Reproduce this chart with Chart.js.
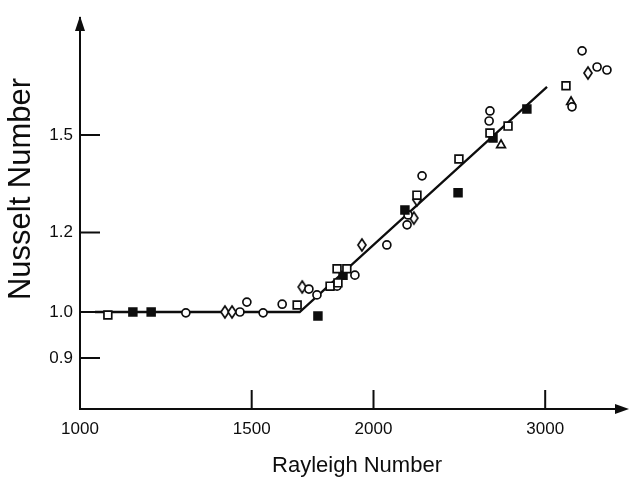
<!DOCTYPE html>
<html><head><meta charset="utf-8">
<script src="https://cdn.jsdelivr.net/npm/chart.js@4"></script>
<style>html,body{margin:0;padding:0;background:#fff}#wrap{width:630px;height:479px}</style>
</head><body><div id="wrap"><canvas id="c" width="630" height="479"></canvas></div>
<script>
const xTicks = [1000, 1500, 2000, 3000];
const yTicks = [0.9, 1.0, 1.2, 1.5];
const fitRa = [1036, 1680, 3013];
const fitNu = [1.0, 1.0, 1.675];
const openSquareRa = [1068, 1670, 1805, 1835, 1839, 1878, 2216, 2447, 2633, 2748, 3151];
const openSquareNu = [0.993, 1.016, 1.061, 1.104, 1.069, 1.104, 1.307, 1.420, 1.507, 1.531, 1.679];
const filledSquareRa = [1133, 1183, 1754, 1861, 2154, 2442, 2652, 2873];
const filledSquareNu = [1.0, 1.0, 0.991, 1.088, 1.263, 1.314, 1.490, 1.592];
const circleRa = [1284, 1459, 1483, 1541, 1612, 1717, 1750, 1835, 1914, 2064, 2170, 2165, 2243, 2633, 2628, 3196, 3273, 3391, 3471];
const circleNu = [0.998, 1.0, 1.023, 0.998, 1.018, 1.054, 1.040, 1.061, 1.088, 1.166, 1.249, 1.221, 1.366, 1.585, 1.549, 1.600, 1.819, 1.753, 1.741];
const diamondRa = [1408, 1432, 1690, 1946, 2216, 2200, 3319];
const diamondNu = [1.0, 1.0, 1.059, 1.166, 1.293, 1.240, 1.729];
const triangleRa = [2703, 3189];
const triangleNu = [1.466, 1.618];

// axis geometry of the figure: pixels per decade and reference positions
const X_PX_PER_DECADE = 975, X_LEFT_VALUE = 1000;
const Y_PX_PER_DECADE = 1005, Y_ONE_PIXEL = 312;
const INK = '#0d0d0d';
const FONT = "'Liberation Sans', Arial, Helvetica, sans-serif";
Chart.defaults.font.family = FONT;

function pts(xs, ys) { return xs.map((v, i) => ({x: v, y: ys[i]})); }
function diamond(w, h) {
  const c = document.createElement('canvas');
  c.width = w + 4; c.height = h + 4;
  const g = c.getContext('2d');
  g.beginPath();
  g.moveTo(c.width / 2, 2); g.lineTo(c.width - 2, c.height / 2);
  g.lineTo(c.width / 2, c.height - 2); g.lineTo(2, c.height / 2);
  g.closePath();
  g.fillStyle = '#fff'; g.fill();
  g.lineWidth = 1.7; g.strokeStyle = INK; g.stroke();
  return c;
}
const dia = diamond(8, 12);

const deco = {
  id: 'deco',
  beforeDatasetsDraw(chart) {
    const {ctx, scales: {x, y}, chartArea: a} = chart;
    const W = chart.width;
    ctx.save();
    ctx.strokeStyle = INK; ctx.lineWidth = 2;
    ctx.beginPath();
    x.ticks.forEach(t => {
      if (t.value === xTicks[0]) return;
      const px = x.getPixelForValue(t.value);
      ctx.moveTo(px, a.bottom); ctx.lineTo(px, a.bottom - 19);
    });
    y.ticks.forEach(t => {
      const py = y.getPixelForValue(t.value);
      ctx.moveTo(a.left, py); ctx.lineTo(a.left + 20, py);
    });
    ctx.moveTo(a.right - 1, a.bottom); ctx.lineTo(W - 10, a.bottom);
    ctx.stroke();
    ctx.fillStyle = INK;
    ctx.beginPath();
    ctx.moveTo(a.left, a.top - 2); ctx.lineTo(a.left - 5, a.top + 13); ctx.lineTo(a.left + 5, a.top + 13);
    ctx.closePath(); ctx.fill();
    ctx.beginPath();
    ctx.moveTo(W - 1, a.bottom); ctx.lineTo(W - 15, a.bottom - 5); ctx.lineTo(W - 15, a.bottom + 5);
    ctx.closePath(); ctx.fill();
    ctx.textAlign = 'center'; ctx.textBaseline = 'middle';
    ctx.font = '22px ' + FONT;
    ctx.fillText('Rayleigh Number', 357, 466);
    ctx.font = '31px ' + FONT;
    ctx.translate(21, 189); ctx.rotate(-Math.PI / 2);
    ctx.fillText('Nusselt Number', 0, 0);
    ctx.restore();
  }
};

const markerBase = {showLine: false, pointBorderColor: INK, pointBorderWidth: 1.7, pointBackgroundColor: '#fff'};
const chart = new Chart(document.getElementById('c'), {
  type: 'scatter',
  data: {
    datasets: [
      Object.assign({label: 'open squares', data: pts(openSquareRa, openSquareNu), pointStyle: 'rect', pointRadius: 5.5, order: 1}, markerBase),
      Object.assign({label: 'filled squares', data: pts(filledSquareRa, filledSquareNu), pointStyle: 'rect', pointRadius: 5.5, order: 1}, markerBase, {pointBackgroundColor: INK}),
      Object.assign({label: 'circles', data: pts(circleRa, circleNu), pointStyle: 'circle', pointRadius: 4, order: 1}, markerBase),
      Object.assign({label: 'diamonds', data: pts(diamondRa, diamondNu), pointStyle: dia, pointRadius: 6, order: 1}, markerBase),
      Object.assign({label: 'triangles', data: pts(triangleRa, triangleNu), pointStyle: 'triangle', pointRadius: 5, order: 1}, markerBase),
      {label: 'fit', data: pts(fitRa, fitNu), showLine: true, borderColor: INK, borderWidth: 2.3, pointRadius: 0, order: 5, tension: 0}
    ]
  },
  options: {
    responsive: false, animation: false, events: [],
    plugins: {legend: {display: false}, tooltip: {enabled: false}},
    layout: {padding: {top: 18, right: 0, left: 0, bottom: 0}},
    scales: {
      x: {
        type: 'logarithmic', min: 1000, max: 3650,
        afterBuildTicks: s => { s.ticks = xTicks.map(v => ({value: v})); },
        afterFit: s => { s.height = 70; },
        grid: {display: false, drawTicks: false},
        border: {display: true, color: INK, width: 2},
        ticks: {color: INK, font: {size: 17}, padding: 10, maxRotation: 0, autoSkip: false, callback: v => String(v)}
      },
      y: {
        type: 'logarithmic', min: 0.8, max: 1.96,
        afterBuildTicks: s => { s.ticks = yTicks.map(v => ({value: v})); },
        afterFit: s => { s.width = 80; },
        grid: {display: false, drawTicks: false},
        border: {display: true, color: INK, width: 2},
        ticks: {color: INK, font: {size: 17}, padding: 7, autoSkip: false, callback: v => Number(v).toFixed(1)}
      }
    }
  },
  plugins: [deco]
});
// match the figure's scale: fixed pixels per decade measured from the axes
const a = chart.chartArea;
chart.options.scales.x.min = X_LEFT_VALUE;
chart.options.scales.x.max = X_LEFT_VALUE * Math.pow(10, (a.right - a.left) / X_PX_PER_DECADE);
chart.options.scales.y.min = Math.pow(10, (Y_ONE_PIXEL - a.bottom) / Y_PX_PER_DECADE);
chart.options.scales.y.max = Math.pow(10, (Y_ONE_PIXEL - a.top) / Y_PX_PER_DECADE);
chart.update();
</script>
</body></html>
